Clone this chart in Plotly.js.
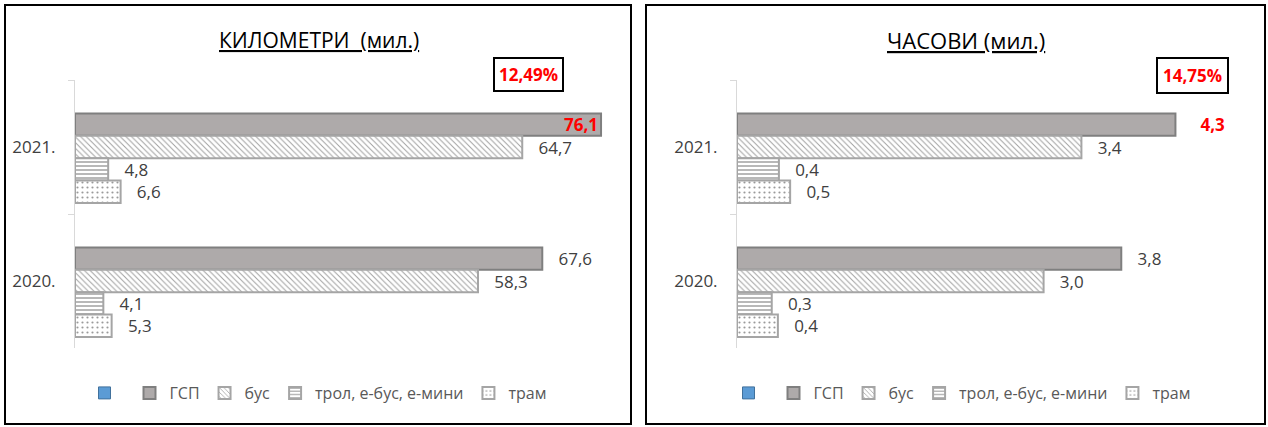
<!DOCTYPE html>
<html>
<head>
<meta charset="utf-8">
<script src="https://cdn.plot.ly/plotly-3.0.1.min.js"></script>
<style>html,body{margin:0;padding:0;background:#fff;}#chart{width:1268px;height:427px;}</style>
</head>
<body>
<div id="chart"></div>
<script>
// ---- data ----
const years = ['2021.', '2020.'];
const seriesNames = ['', 'ГСП', 'бус', 'трол, е-бус, е-мини', 'трам'];

// КИЛОМЕТРИ (мил.)
const kmTitle = 'КИЛОМЕТРИ  (мил.)';
const kmBlank = [null, null];
const kmGSP = [76.1, 67.6];
const kmBus = [64.7, 58.3];
const kmTrol = [4.8, 4.1];
const kmTram = [6.6, 5.3];
const kmChange = '12,49%';

// ЧАСОВИ (мил.)
const hTitle = 'ЧАСОВИ (мил.)';
const hBlank = [null, null];
const hGSP = [4.29, 3.76];
const hBus = [3.37, 3.0];
const hTrol = [0.41, 0.34];
const hTram = [0.52, 0.40];
const hChange = '14,75%';

// ---- styling ----
const FONT = '"Open Sans", "Noto Sans", sans-serif';
const LBL = '#404040';
const PAD = '\u00a0\u00a0\u00a0';
const PADB = '\u00a0\u00a0\u00a0\u00a0\u00a0';
const LS = 17;

const styles = [
  {color: '#5b9bd5', line: {color: '#41719c', width: 1}},
  {color: '#aeaaaa', line: {color: '#7f7f7f', width: 2}},
  {color: 'white', line: {color: '#a5a5a5', width: 2}, pattern: {shape: '\\', fgcolor: '#a0a0a0', bgcolor: 'white', size: 4, solidity: 0.25}},
  {color: 'white', line: {color: '#a5a5a5', width: 2}, pattern: {shape: '-', fgcolor: '#9a9a9a', bgcolor: 'white', size: 4, solidity: 0.35}},
  {color: 'white', line: {color: '#a5a5a5', width: 2}, pattern: {shape: '.', fgcolor: '#9a9a9a', bgcolor: 'white', size: 5, solidity: 0.15}}
];

function makeTraces(vals, xa, ya, leg, firstInside) {
  return vals.map((v, i) => {
    const t = {
      type: 'bar', orientation: 'h', name: seriesNames[i],
      y: years, x: v, xaxis: xa, yaxis: ya, legend: leg,
      marker: styles[i], cliponaxis: false, constraintext: 'none',
      textfont: {family: FONT, size: LS, color: LBL},
      hoverinfo: 'skip'
    };
    if (i > 0) {
      if (i === 1) {
        t.texttemplate = firstInside ? ['<b>%{x:.1f}</b>', PAD + '%{x:.1f}'] : [PADB + '<b>%{x:.1f}</b>', PAD + '%{x:.1f}'];
        t.textposition = firstInside ? ['inside', 'outside'] : ['outside', 'outside'];
        t.insidetextanchor = 'end';
        t.textfont = {family: FONT, size: LS, color: ['#ff0000', LBL]};
        t.insidetextfont = {family: FONT, size: LS, color: '#ff0000'};
        t.outsidetextfont = {family: FONT, size: LS, color: ['#ff0000', LBL]};
      } else {
        t.texttemplate = PAD + '%{x:.1f}';
        t.textposition = 'outside';
      }
    }
    return t;
  });
}

const traces = [].concat(
  makeTraces([kmBlank, kmGSP, kmBus, kmTrol, kmTram], 'x', 'y', 'legend', true),
  makeTraces([hBlank, hGSP, hBus, hTrol, hTram], 'x2', 'y2', 'legend2', false)
);

const W = 1268, H = 427;
const px = x => x / W, py = y => 1 - y / H;

const yax = {
  type: 'category', categoryorder: 'array', categoryarray: years,
  autorange: 'reversed', showline: true, linecolor: '#d9d9d9', linewidth: 1,
  ticks: 'outside', tickson: 'boundaries', ticklen: 6, tickcolor: '#d9d9d9',
  showgrid: false, zeroline: false, ticklabelstandoff: 15,
  tickfont: {family: FONT, size: LS, color: LBL},
  domain: [py(348), py(80)]
};
const legBase = {
  orientation: 'h', xanchor: 'center', yanchor: 'middle', y: py(393),
  bgcolor: 'rgba(0,0,0,0)', font: {family: FONT, size: 16, color: '#595959'},
  itemwidth: 30, traceorder: 'normal'
};

const ann = (x, y, text, font, extra) => Object.assign({
  xref: 'paper', yref: 'paper', x: px(x), y: py(y), xanchor: 'center', yanchor: 'middle',
  text: text, showarrow: false, font: font
}, extra || {});

const layout = {
  width: W, height: H, margin: {l: 0, r: 0, t: 0, b: 0},
  paper_bgcolor: 'white', plot_bgcolor: 'rgba(0,0,0,0)',
  separators: ', ', barmode: 'group', bargap: 0.165, bargroupgap: 0,
  showlegend: true,
  xaxis: {domain: [px(75), px(628)], range: [0, 80], visible: false, fixedrange: true},
  yaxis: Object.assign({}, yax, {anchor: 'x'}),
  xaxis2: {domain: [px(737), px(1248)], range: [0, 5], visible: false, fixedrange: true},
  yaxis2: Object.assign({}, yax, {anchor: 'x2'}),
  legend: Object.assign({}, legBase, {x: px(318)}),
  legend2: Object.assign({}, legBase, {x: px(962)}),
  shapes: [
    {type: 'rect', xref: 'paper', yref: 'paper', x0: px(5), x1: px(631), y0: py(424), y1: py(5), line: {color: '#000', width: 2}},
    {type: 'rect', xref: 'paper', yref: 'paper', x0: px(646), x1: px(1265), y0: py(424), y1: py(5), line: {color: '#000', width: 2}}
  ],
  annotations: [
    ann(319, 40, '<u>' + kmTitle + '</u>', {family: FONT, size: 21, color: '#000'}),
    ann(966, 40, '<u>' + hTitle + '</u>', {family: FONT, size: 22, color: '#000'}),
    ann(528, 75, '<b>' + kmChange + '</b>', {family: FONT, size: 17, color: '#ff0000'}, {bordercolor: '#000', borderwidth: 2, borderpad: 4, bgcolor: 'white'}),
    ann(1192, 76, '<b>' + hChange + '</b>', {family: FONT, size: 17, color: '#ff0000'}, {bordercolor: '#000', borderwidth: 2, borderpad: 5, bgcolor: 'white'})
  ]
};

Plotly.newPlot('chart', traces, layout, {staticPlot: true, displayModeBar: false});
</script>
</body>
</html>
